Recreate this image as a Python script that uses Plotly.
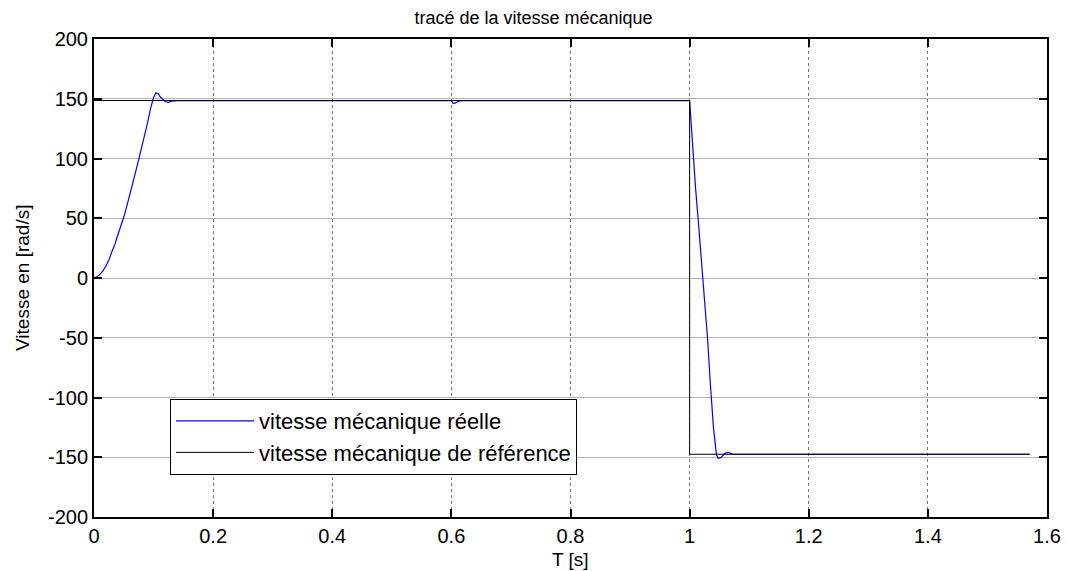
import plotly.graph_objects as go

# Measured mechanical speed (rad/s) versus time (s)
t_reelle = [0.000, 0.005, 0.010, 0.015, 0.020, 0.025, 0.030, 0.035, 0.040, 0.045,
            0.050, 0.055, 0.060, 0.065, 0.070, 0.075, 0.080, 0.085, 0.090, 0.095,
            0.100, 0.104, 0.108, 0.112, 0.116, 0.120, 0.125, 0.130, 0.140,
            0.600, 0.603, 0.607, 0.612, 0.620,
            1.000, 1.002, 1.005, 1.010, 1.015, 1.020, 1.025, 1.030, 1.035, 1.040,
            1.045, 1.048, 1.053, 1.060, 1.066, 1.072, 1.571]
w_reelle = [0, 1, 3, 6, 10, 15, 22, 28, 36, 43,
            51, 60, 69, 79, 89, 99, 109, 119, 130, 142,
            151, 155, 154, 151, 149, 147.5, 147, 148, 148.5,
            148.5, 146, 146.5, 148, 148.5,
            148.5, 132, 108, 75, 45, 15, -15, -50, -90, -125,
            -148, -151, -150, -146.5, -146, -147.5, -147.5]

# Speed reference (step reversal at t = 1 s)
t_ref = [0.0, 1.0, 1.0, 1.571]
w_ref = [148.5, 148.5, -147.5, -147.5]

x_ticks = [0, 0.2, 0.4, 0.6, 0.8, 1.0, 1.2, 1.4, 1.6]
x_tick_labels = ["0", "0.2", "0.4", "0.6", "0.8", "1", "1.2", "1.4", "1.6"]
y_ticks = [-200, -150, -100, -50, 0, 50, 100, 150, 200]
y_tick_labels = ["-200", "-150", "-100", "-50", "0", "50", "100", "150", "200"]

FONT = "Liberation Sans, Arial, sans-serif"

fig = go.Figure()
fig.add_trace(go.Scatter(x=t_reelle, y=w_reelle, mode="lines",
                         name="vitesse mécanique réelle",
                         line=dict(color="#0000ff", width=1.2)))
fig.add_trace(go.Scatter(x=t_ref, y=w_ref, mode="lines",
                         name="vitesse mécanique de référence",
                         line=dict(color="#000000", width=1)))

axis_common = dict(
    showline=True, linecolor="black", linewidth=2, mirror="ticks",
    ticks="inside", ticklen=8, tickwidth=1.5, tickcolor="black",
    showgrid=True, zeroline=False,
    tickfont=dict(family=FONT, size=20, color="black"),
    automargin=False,
)

fig.update_xaxes(range=[0, 1.6], tickvals=x_ticks, ticktext=x_tick_labels,
                 gridcolor="#7a7a7a", griddash="dot", gridwidth=1,
                 **axis_common)
fig.update_yaxes(range=[-200, 200], tickvals=y_ticks, ticktext=y_tick_labels,
                 gridcolor="#b4b4b4", gridwidth=1,
                 **axis_common)

fig.update_layout(
    width=1067, height=571,
    margin=dict(l=94, r=20, t=39, b=54, autoexpand=False),
    plot_bgcolor="white", paper_bgcolor="white",
    font=dict(family=FONT, color="black"),
    title=dict(text="tracé de la vitesse mécanique", x=0.5, xref="container",
               xanchor="center", y=1 - 18 / 571, yref="container", yanchor="middle",
               font=dict(family=FONT, size=18, color="black")),
    legend=dict(x=(170 - 94) / 953, y=(517 - 399) / 478, xanchor="left", yanchor="top",
                bordercolor="black", borderwidth=1, bgcolor="white",
                font=dict(family=FONT, size=22, color="black"),
                itemwidth=78, tracegroupgap=0),
    showlegend=True,
    annotations=[
        dict(text="T [s]", xref="paper", yref="paper", x=0.5, y=(517 - 559) / 478,
             xanchor="center", yanchor="middle", showarrow=False,
             font=dict(family=FONT, size=19, color="black")),
        dict(text="Vitesse en [rad/s]", xref="paper", yref="paper",
             x=(22 - 94) / 953, y=0.5, textangle=-90,
             xanchor="center", yanchor="middle", showarrow=False,
             font=dict(family=FONT, size=19, color="black")),
    ],
)

fig.write_html("out.html")
